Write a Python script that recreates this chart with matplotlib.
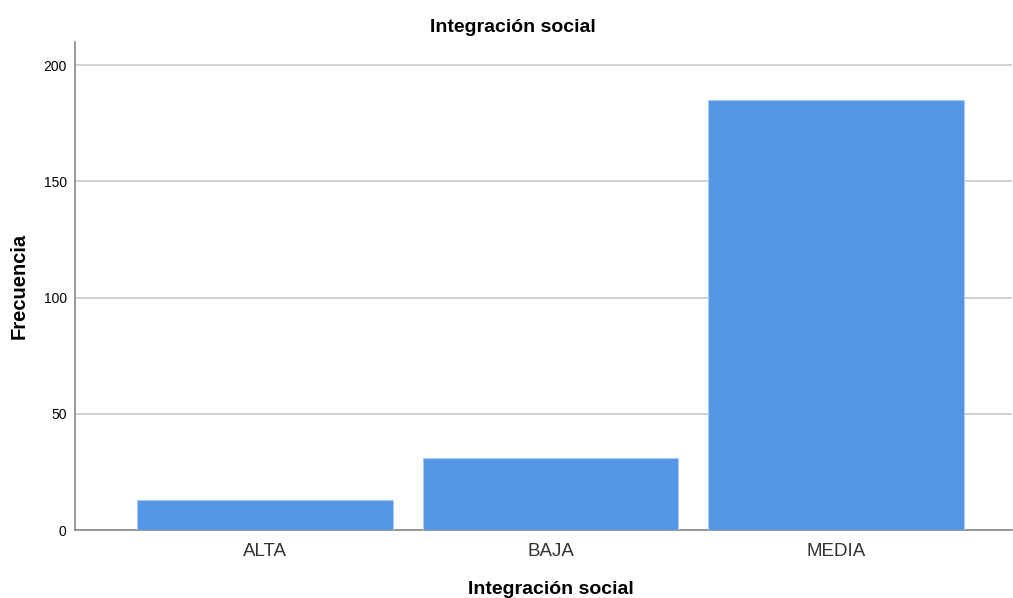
import matplotlib
matplotlib.use("Agg")
import matplotlib.pyplot as plt

categories = ["ALTA", "BAJA", "MEDIA"]
values = [13, 31, 185]
yticks = [0, 50, 100, 150, 200]

plt.rcParams['font.family'] = ['Liberation Sans', 'DejaVu Sans']

fig = plt.figure(figsize=(10.13, 5.98), dpi=100)
ax = fig.add_axes([75/1013, 68/598, 937/1013, 488/598])

x = list(range(len(categories)))
ax.bar(x, values, width=0.895, color="#5596E6", edgecolor="#A9CBF3", linewidth=0.8, zorder=3)

ax.set_xlim(-0.664, 2.615)
ax.set_ylim(0, 210)
ax.set_yticks(yticks)
ax.set_yticklabels([str(t) for t in yticks], fontsize=10)
ax.set_xticks(x)
ax.set_xticklabels(categories, fontsize=13.5, color="#333333")
ax.tick_params(axis='both', length=0, pad=6)
ax.tick_params(axis='x', pad=9)
ax.yaxis.grid(True, color="#C8C8C8", linewidth=1.2, zorder=0)
ax.set_axisbelow(True)

for s in ["top", "right"]:
    ax.spines[s].set_visible(False)
for s in ["left", "bottom"]:
    ax.spines[s].set_color("#888888")
    ax.spines[s].set_linewidth(1.2)

fig.text(513/1013, 1 - 28/598, "Integración social", fontsize=14, fontweight="bold",
         ha="center", va="center")
ax.set_xlabel("Integración social", fontsize=14, fontweight="bold")
ax.xaxis.set_label_coords((551 - 75) / 937, -(590 - 530) / 488)
ax.xaxis.label.set_va("center")
ax.set_ylabel("Frecuencia", fontsize=14.5, fontweight="bold")
ax.yaxis.set_label_coords(-(75 - 19) / 937, 0.5)
ax.yaxis.label.set_va("center")

fig.savefig("out.png", dpi=100)
